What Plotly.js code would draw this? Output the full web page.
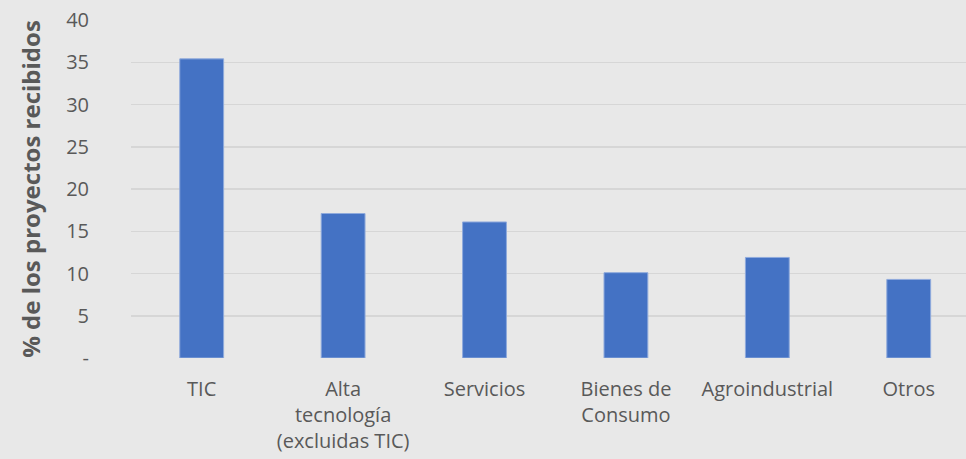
<!DOCTYPE html>
<html>
<head>
<meta charset="utf-8">
<script src="https://cdn.plot.ly/plotly-3.0.1.min.js"></script>
<style>html,body{margin:0;padding:0;background:#e8e8e8;}</style>
</head>
<body>
<div id="chart" style="width:966px;height:459px;"></div>
<script>
const categories = ["TIC", "Alta<br>tecnología<br>(excluidas TIC)", "Servicios", "Bienes de<br>Consumo", "Agroindustrial", "Otros"];
const values = [35.4, 17.1, 16.1, 10.1, 11.9, 9.3];
const yTickVals = [0, 5, 10, 15, 20, 25, 30, 35, 40];
const yTickText = ["-", "5", "10", "15", "20", "25", "30", "35", "40"];

const font = "'Open Sans', sans-serif";
Plotly.newPlot("chart", [{
  type: "bar",
  x: categories,
  y: values,
  width: 0.31,
  marker: {color: "#4472C4", line: {color: "#8FAADC", width: 1}},
  hoverinfo: "skip"
}], {
  width: 966, height: 459,
  paper_bgcolor: "#e8e8e8", plot_bgcolor: "#e8e8e8",
  margin: {l: 131, r: 0, t: 20, b: 101},
  showlegend: false,
  font: {family: font, color: "#595959", size: 20},
  xaxis: {
    type: "category",
    range: [-0.5, 5.405],
    showgrid: false, zeroline: false, showline: false,
    ticks: "outside", ticklen: 13, tickcolor: "rgba(0,0,0,0)",
    tickfont: {family: font, size: 20, color: "#595959"}
  },
  yaxis: {
    range: [0, 40],
    tickvals: yTickVals, ticktext: yTickText,
    showgrid: true, gridcolor: "#d6d6d6", gridwidth: 1.5,
    zeroline: false, showline: false,
    ticks: "outside", ticklen: 37, tickcolor: "rgba(0,0,0,0)",
    tickfont: {family: font, size: 20, color: "#595959"},
    title: {text: "<b>% de los proyectos recibidos</b>", font: {family: font, size: 24, color: "#595959"}, standoff: 18}
  }
}, {staticPlot: true});
</script>
</body>
</html>
